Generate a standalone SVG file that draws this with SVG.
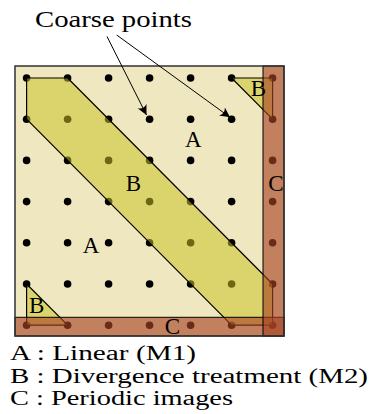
<svg xmlns="http://www.w3.org/2000/svg" width="370" height="414" viewBox="0 0 370 414">
<style>
.t{font-family:'Liberation Serif','Times New Roman',serif;fill:#000;font-weight:normal}
.lbl{font-size:23px;text-anchor:middle}
.leg{font-size:20px}
.dot{fill:#000}
.band{fill:#cbc222;fill-opacity:0.53;stroke:#000;stroke-width:1.2;stroke-linejoin:round}
.strip{fill:#a84426;fill-opacity:0.63;stroke:#000;stroke-width:1}
.arrow{stroke:#000;stroke-width:1;fill:none;marker-end:url(#ah)}
</style>
<defs>
<marker id="ah" markerWidth="14" markerHeight="12" refX="10" refY="5" orient="auto" markerUnits="userSpaceOnUse">
<path d="M10,5 L0,0 Q4,5 0,10 Z" fill="#000"/>
</marker>
</defs>
<g id="domain">
<rect x="15" y="66" width="269" height="270" fill="#efe7bf"/>
</g>
<g id="coarse-points" fill="#000">
<circle cx="26.6" cy="78" r="3.8"/><circle cx="67.6" cy="78" r="3.8"/><circle cx="108.6" cy="78" r="3.8"/><circle cx="149.6" cy="78" r="3.8"/><circle cx="190.6" cy="78" r="3.8"/><circle cx="231.6" cy="78" r="3.8"/><circle cx="272.6" cy="78" r="3.8"/>
<circle cx="26.6" cy="119.2" r="3.8"/><circle cx="67.6" cy="119.2" r="3.8"/><circle cx="108.6" cy="119.2" r="3.8"/><circle cx="149.6" cy="119.2" r="3.8"/><circle cx="190.6" cy="119.2" r="3.8"/><circle cx="231.6" cy="119.2" r="3.8"/><circle cx="272.6" cy="119.2" r="3.8"/>
<circle cx="26.6" cy="160.4" r="3.8"/><circle cx="67.6" cy="160.4" r="3.8"/><circle cx="108.6" cy="160.4" r="3.8"/><circle cx="149.6" cy="160.4" r="3.8"/><circle cx="190.6" cy="160.4" r="3.8"/><circle cx="231.6" cy="160.4" r="3.8"/><circle cx="272.6" cy="160.4" r="3.8"/>
<circle cx="26.6" cy="201.6" r="3.8"/><circle cx="67.6" cy="201.6" r="3.8"/><circle cx="108.6" cy="201.6" r="3.8"/><circle cx="149.6" cy="201.6" r="3.8"/><circle cx="190.6" cy="201.6" r="3.8"/><circle cx="231.6" cy="201.6" r="3.8"/><circle cx="272.6" cy="201.6" r="3.8"/>
<circle cx="26.6" cy="242.8" r="3.8"/><circle cx="67.6" cy="242.8" r="3.8"/><circle cx="108.6" cy="242.8" r="3.8"/><circle cx="149.6" cy="242.8" r="3.8"/><circle cx="190.6" cy="242.8" r="3.8"/><circle cx="231.6" cy="242.8" r="3.8"/><circle cx="272.6" cy="242.8" r="3.8"/>
<circle cx="26.6" cy="284" r="3.8"/><circle cx="67.6" cy="284" r="3.8"/><circle cx="108.6" cy="284" r="3.8"/><circle cx="149.6" cy="284" r="3.8"/><circle cx="190.6" cy="284" r="3.8"/><circle cx="231.6" cy="284" r="3.8"/><circle cx="272.6" cy="284" r="3.8"/>
<circle cx="26.6" cy="325.2" r="3.8"/><circle cx="67.6" cy="325.2" r="3.8"/><circle cx="108.6" cy="325.2" r="3.8"/><circle cx="149.6" cy="325.2" r="3.8"/><circle cx="190.6" cy="325.2" r="3.8"/><circle cx="231.6" cy="325.2" r="3.8"/><circle cx="272.6" cy="325.2" r="3.8"/>
</g>
<g id="region-B-band">
<polygon class="band" points="26.6,78 67.6,78 272.6,284 272.6,325.2 231.6,325.2 26.6,119.2"/>
</g>
<g id="region-B-top">
<polygon class="band" points="231.6,78 272.6,78 272.6,119.2"/>
</g>
<g id="region-B-bottom">
<polygon class="band" points="26.6,284 26.6,325.2 67.6,325.2"/>
</g>
<g id="region-C">
<rect class="strip" x="15" y="317.3" width="269" height="18.7"/>
<rect class="strip" x="263" y="66" width="21" height="270"/>
</g>
<g id="frame">
<rect x="15" y="66" width="269" height="270" fill="none" stroke="#333" stroke-width="1.5"/>
</g>
<g id="labels">
<text class="t lbl" x="193.4" y="146.5">A</text>
<text class="t lbl" x="91" y="253">A</text>
<text class="t lbl" x="133.4" y="190.8">B</text>
<text class="t lbl" x="258.3" y="96">B</text>
<text class="t lbl" x="36.7" y="313.2">B</text>
<text class="t lbl" x="276" y="191.3">C</text>
<text class="t lbl" x="172.5" y="334">C</text>
</g>
<g id="title">
<text class="t" x="35" y="27" style="font-size:24px" textLength="157" lengthAdjust="spacingAndGlyphs">Coarse points</text>
</g>
<g id="connectors">
<line class="arrow" x1="107" y1="36.5" x2="146.5" y2="115"/>
<line class="arrow" x1="116.7" y1="35" x2="230" y2="117.3"/>
</g>
<g id="legend">
<text class="t leg" x="10" y="360" textLength="186" lengthAdjust="spacingAndGlyphs">A : Linear (M1)</text>
<text class="t leg" x="10" y="382.5" textLength="358" lengthAdjust="spacingAndGlyphs">B : Divergence treatment (M2)</text>
<text class="t leg" x="10" y="404.5" textLength="223" lengthAdjust="spacingAndGlyphs">C : Periodic images</text>
</g>
</svg>
